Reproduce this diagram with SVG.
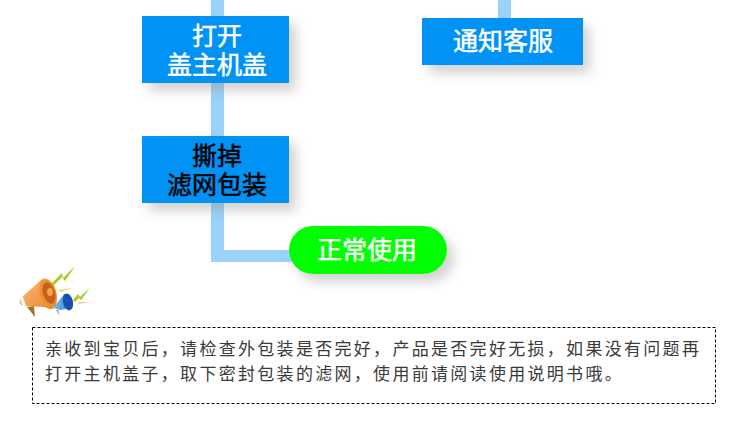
<svg xmlns="http://www.w3.org/2000/svg" width="750" height="444" viewBox="0 0 750 444">
<defs>
<style>
.box{fill:#0093f5}
.t{font-family:"Noto Sans CJK SC","Liberation Sans",sans-serif;font-size:25px;text-anchor:middle;stroke-width:.5px}
.w{fill:#fff;stroke:#fff}.k{fill:#000;stroke:#000}
.note{font-family:"Noto Sans CJK SC","Liberation Sans",sans-serif;font-size:17px;fill:#3a3a3a;letter-spacing:2.3px}
.conn{fill:#99d2fa}
</style>
<filter id="sh" x="-20%" y="-30%" width="150%" height="190%"><feGaussianBlur in="SourceAlpha" stdDeviation="6"/><feOffset dx="7" dy="8"/><feColorMatrix type="matrix" values="0 0 0 0 0.3 0 0 0 0 0.3 0 0 0 0 0.3 0 0 0 0.42 0"/><feMerge><feMergeNode/><feMergeNode in="SourceGraphic"/></feMerge></filter>
<linearGradient id="or" x1="0" y1="0" x2="1" y2="1"><stop offset="0" stop-color="#fcc184"/><stop offset="1" stop-color="#ea7f20"/></linearGradient>
<linearGradient id="bl" x1="0" y1="0" x2="1" y2="0"><stop offset="0" stop-color="#7cc2ee"/><stop offset="1" stop-color="#2a7ccc"/></linearGradient>
</defs>
<g id="connectors">
<rect class="conn" x="211" y="0" width="13" height="262"/>
<rect class="conn" x="211" y="250" width="85" height="12"/>
<rect class="conn" x="498" y="0" width="13" height="20"/>
</g>
<g id="node-open"><rect class="box" x="142" y="16" width="147" height="67" filter="url(#sh)"/><text class="t w"><tspan x="217" y="45">打开</tspan><tspan x="217" y="74">盖主机盖</tspan></text></g>
<g id="node-tear"><rect class="box" x="142" y="136" width="147" height="67" filter="url(#sh)"/><text class="t k"><tspan x="217" y="165">撕掉</tspan><tspan x="217" y="194">滤网包装</tspan></text></g>
<g id="node-service"><rect class="box" x="422" y="18" width="161" height="47" filter="url(#sh)"/><text class="t w" x="503" y="50">通知客服</text></g>
<g id="node-normal"><rect x="289" y="226" width="158" height="48" rx="24" fill="#00ff00" filter="url(#sh)"/><text class="t w" x="367" y="259">正常使用</text></g>
<g id="megaphone">
<path d="M50 285L62 273L63 278L75 266L65 281L62 277L52 287Z" fill="#a6cc1c"/>
<path d="M73 300L78 294L80 297L90 288L81 300L79 298L75 302Z" fill="#a6cc1c"/>
<path d="M58 290L72 288L60 292Z" fill="#f6cf6a"/>
<path d="M78 302L92 302L78 304Z" fill="#f7c7a0"/>
<path d="M27 307L34 306L35 317Z" fill="#a8701f"/>
<path d="M20 299L42 279C50 276 60 288 56 307C52 310 48 309 45 307L24 306C20 305 19 302 20 299Z" fill="url(#or)"/>
<ellipse cx="48" cy="293" rx="8" ry="14" transform="rotate(-18 48 293)" fill="#f08f2e"/>
<ellipse cx="49" cy="293" rx="6" ry="11" transform="rotate(-18 49 293)" fill="#c4611f"/>
<ellipse cx="50" cy="292" rx="3" ry="4" fill="#f7a04a"/>
<path d="M23 297L26 306L23 306L20 299Z" fill="#fff"/>
<path d="M53 308L65 293L72 308L60 310Z" fill="url(#bl)"/>
<ellipse cx="68" cy="302" rx="5" ry="8.500" transform="rotate(-12 68 302)" fill="#1a4fb0"/>
<path d="M56 310L60 316L58 310Z" fill="#8a94a0"/>
</g>
<g id="note">
<rect x="32.500" y="327.500" width="683" height="76" fill="none" stroke="#000" stroke-width="1" stroke-dasharray="3 2"/>
<text class="note"><tspan x="45" y="355">亲收到宝贝后，请检查外包装是否完好，产品是否完好无损，如果没有问题再</tspan><tspan x="45" y="380">打开主机盖子，取下密封包装的滤网，使用前请阅读使用说明书哦。</tspan></text>
</g>
</svg>
